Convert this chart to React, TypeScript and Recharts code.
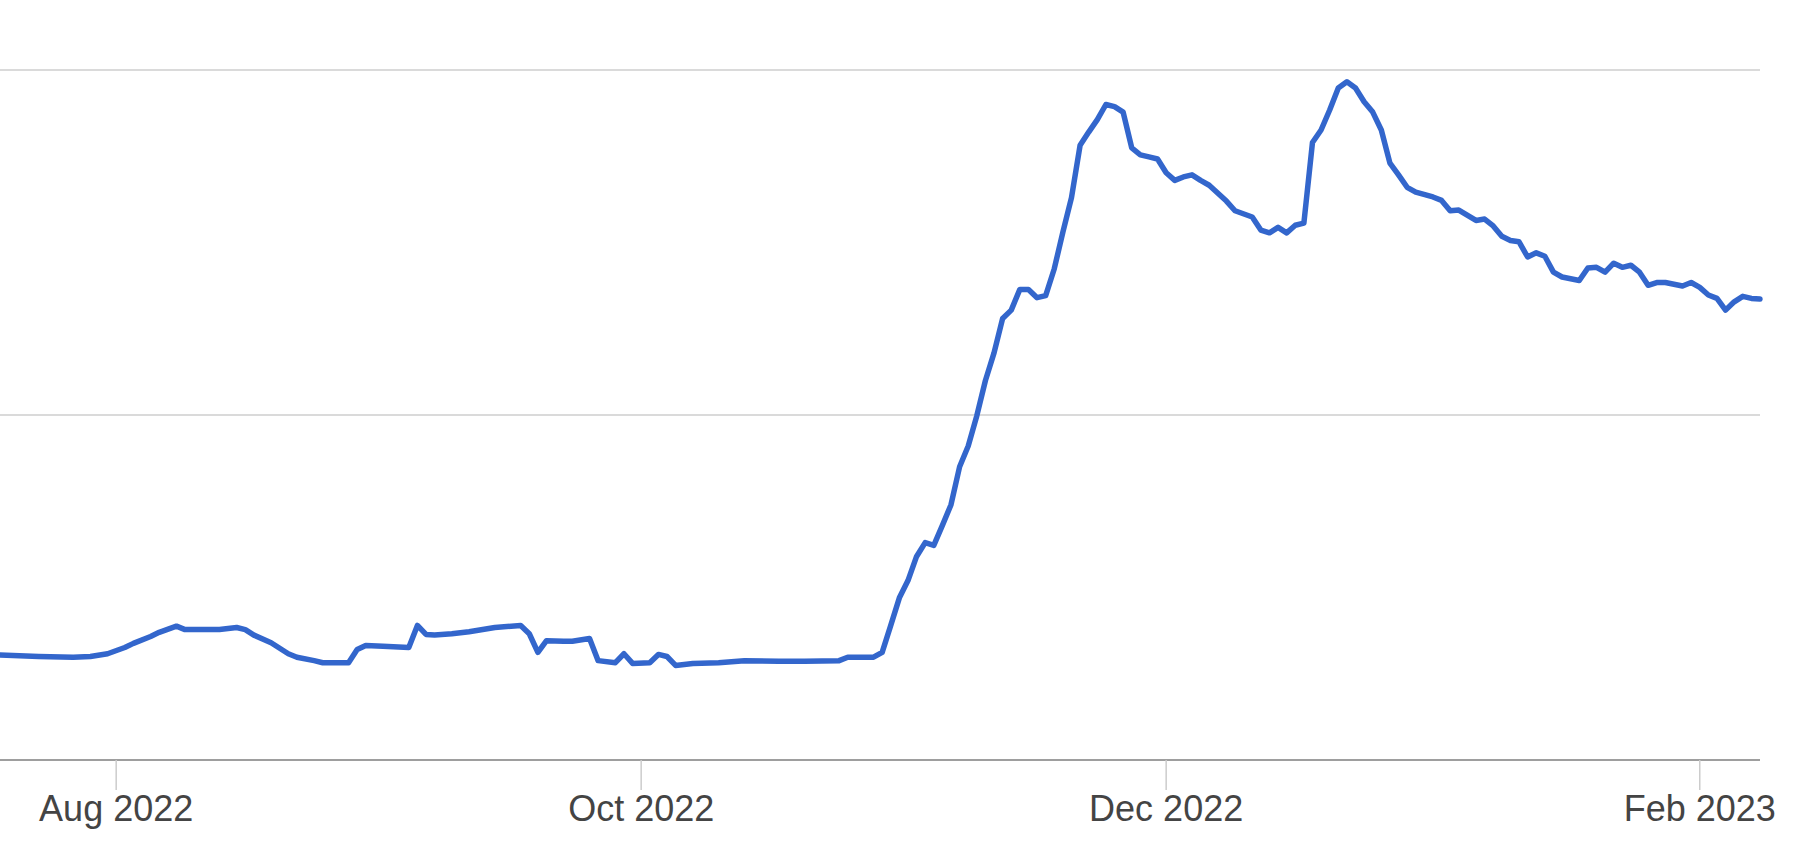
import { LineChart, Line, XAxis, YAxis, CartesianGrid } from "recharts";

// ── Data ──────────────────────────────────────────────────────────────
// day offsets counted from 1 Aug 2022, values on a 0–100 scale

const days = [
  -13.5, -9, -5, -3, -1, 1, 2, 4, 5, 7, 8, 10, 12, 14, 15, 16, 18, 20, 21, 23,
  24, 27, 28, 29, 31, 34, 35, 36, 37, 39, 41, 44, 47, 48, 49, 50, 52, 53, 55, 56,
  58, 59, 60, 62, 63, 64, 65, 67, 70, 73, 77, 80, 84, 85, 88, 89, 90, 91, 92, 93,
  94, 95, 96, 97, 98, 99, 100, 101, 102, 103, 104, 105, 106, 107, 108, 109, 110, 111, 112, 113,
  114, 115, 116, 117, 118, 119, 120, 121, 122, 123, 124, 125, 126, 127, 129, 130, 132, 133, 134, 135,
  136, 137, 138, 139, 140, 141, 142, 143, 144, 145, 146, 147, 148, 149, 150, 151, 153, 154, 155, 156,
  158, 159, 160, 161, 162, 163, 164, 165, 166, 167, 168, 170, 171, 172, 173, 174, 175, 176, 177, 178,
  179, 180, 182, 183, 184, 185, 186, 187, 188, 189, 190, 191,
];

const values = [
  15.2, 15.0, 14.9, 15.0, 15.4, 16.3, 16.9, 17.9, 18.5, 19.4, 18.9, 18.9, 18.9, 19.2, 18.9, 18.1, 17.0, 15.4, 14.9, 14.4,
  14.1, 14.1, 16.0, 16.6, 16.5, 16.3, 19.5, 18.2, 18.1, 18.3, 18.6, 19.2, 19.5, 18.3, 15.6, 17.3, 17.2, 17.2, 17.6, 14.4,
  14.1, 15.4, 14.0, 14.1, 15.3, 15.0, 13.7, 14.0, 14.1, 14.4, 14.3, 14.3, 14.4, 14.9, 14.9, 15.6, 19.5, 23.5, 26.0, 29.5,
  31.5, 31.1, 34.0, 37.0, 42.5, 45.5, 49.9, 55.0, 59.0, 64.0, 65.2, 68.2, 68.2, 67.0, 67.3, 71.2, 76.5, 81.5, 89.1, 91.0,
  92.8, 95.0, 94.7, 93.9, 88.7, 87.7, 87.4, 87.1, 85.1, 84.0, 84.5, 84.8, 84.0, 83.3, 81.0, 79.6, 78.7, 76.8, 76.4, 77.2,
  76.4, 77.5, 77.8, 89.5, 91.3, 94.2, 97.4, 98.3, 97.4, 95.4, 93.9, 91.3, 86.5, 84.8, 83.0, 82.3, 81.6, 81.1, 79.6, 79.7,
  78.2, 78.4, 77.4, 75.9, 75.3, 75.1, 72.9, 73.5, 73.0, 70.7, 70.0, 69.5, 71.3, 71.4, 70.7, 72.0, 71.4, 71.7, 70.7, 68.8,
  69.2, 69.2, 68.7, 69.2, 68.5, 67.4, 66.9, 65.2, 66.4, 67.2, 66.9, 66.8,
];

const tickDays = [0, 61, 122, 184];
const tickLabels = ["Aug 2022", "Oct 2022", "Dec 2022", "Feb 2023"];

const gridValues = [0, 50, 100];

// ── Chart ─────────────────────────────────────────────────────────────

export default function App() {
  const data = days.map((d, i) => ({ day: d, value: values[i] }));

  const formatTick = (d: number) => {
    const i = tickDays.indexOf(d);
    return i >= 0 ? tickLabels[i] : "";
  };

  return (
    <div style={{ position: "absolute", left: 0, top: 0, background: "#FFFFFF" }}>
      <LineChart
        width={1809}
        height={867}
        data={data}
        margin={{ top: 70, right: 49, bottom: 0, left: 0 }}
      >
        <CartesianGrid vertical={false} stroke="#DADADA" strokeWidth={2} />
        <XAxis
          dataKey="day"
          type="number"
          domain={[-13.5, 191]}
          ticks={tickDays}
          interval={0}
          tickFormatter={formatTick}
          height={107}
          axisLine={{ stroke: "#9E9E9E", strokeWidth: 2 }}
          tickLine={{ stroke: "#CCCCCC", strokeWidth: 1.5 }}
          tickSize={30}
          tickMargin={5}
          tick={{ fontSize: 36, fill: "#444444", fontFamily: "'Liberation Sans', Arial, sans-serif" }}
        />
        <YAxis hide width={0} type="number" domain={[0, 100]} ticks={gridValues} />
        <Line
          type="linear"
          dataKey="value"
          stroke="#3366CC"
          strokeWidth={5.5}
          strokeLinejoin="round"
          strokeLinecap="round"
          dot={false}
          isAnimationActive={false}
        />
      </LineChart>
    </div>
  );
}
